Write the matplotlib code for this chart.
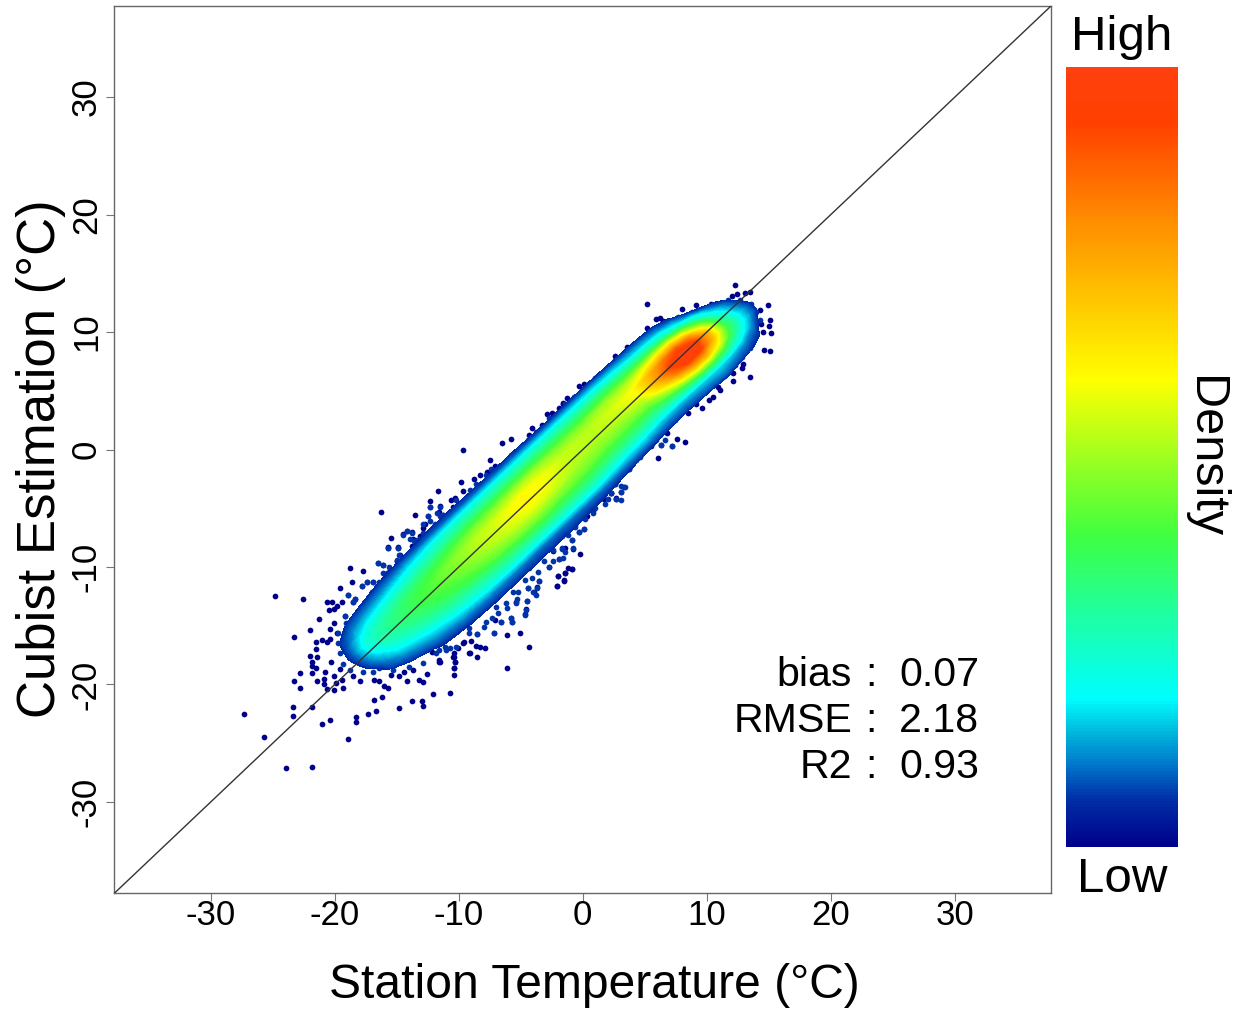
import numpy as np
import matplotlib
matplotlib.use('Agg')
import matplotlib.pyplot as plt
from matplotlib.colors import LinearSegmentedColormap

plt.rcParams['font.family'] = ['Liberation Sans', 'DejaVu Sans']
plt.rcParams['axes.unicode_minus'] = False

W, H = 1242, 1014

# position along the 1:1 line, and offset (estimate - station) across it
along = [-20, -19, -18, -17, -16, -14, -12, -10, -8, -6, -4.5, -3, -1, 1, 3, 4.5, 6, 7, 8, 9, 10, 11, 12, 13, 14]
across = [-8, -7, -6, -5, -4, -3, -2, -1, 0, 1, 2, 3, 4, 5, 6, 7, 8]

# density read off the colours of the cloud, below 0 means no cloud
density = [
    [-.3, -.3, -.3, -.3, -.3, -.3, -.3, -.3, -.3, -.3, -.3, -.3, -.3, -.3, -.3, -.3, -.3],
    [-.3, -.3, -.3, -.3, -.3, -.2, -.1, -.05, -.02, -.01, -.02, -.05, -.1, -.2, -.3, -.3, -.3],
    [-.3, -.3, -.3, -.2, -.1, -.03, .02, .06, .08, .09, .08, .06, .0, -.1, -.2, -.3, -.3],
    [-.3, -.3, -.2, -.1, .0, .07, .11, .16, .21, .23, .18, .12, .07, -.02, -.15, -.3, -.3],
    [-.3, -.3, -.1, -.02, .06, .12, .19, .25, .29, .29, .24, .16, .09, .02, -.1, -.3, -.3],
    [-.3, -.1, .02, .07, .13, .2, .28, .33, .36, .36, .31, .22, .13, .06, -.02, -.2, -.3],
    [-.3, -.05, .04, .1, .18, .27, .34, .39, .42, .41, .36, .27, .18, .08, .0, -.15, -.3],
    [-.2, -.02, .05, .11, .22, .3, .39, .44, .47, .47, .41, .31, .22, .09, .02, -.06, -.2],
    [-.2, -.02, .05, .11, .24, .34, .44, .5, .53, .53, .46, .35, .24, .09, .02, -.1, -.2],
    [-.2, -.02, .05, .1, .24, .36, .47, .55, .58, .57, .48, .36, .24, .09, .0, -.1, -.2],
    [-.2, -.02, .05, .1, .24, .37, .48, .57, .62, .61, .51, .37, .24, .09, .0, -.1, -.2],
    [-.2, -.02, .05, .1, .24, .36, .46, .55, .59, .59, .51, .37, .24, .09, .0, -.1, -.2],
    [-.2, -.04, .04, .1, .24, .35, .44, .5, .53, .54, .48, .36, .24, .08, -.02, -.1, -.2],
    [-.2, -.06, .02, .09, .2, .32, .41, .48, .52, .53, .48, .36, .23, .08, -.03, -.1, -.2],
    [-.2, -.08, .0, .08, .18, .3, .4, .48, .54, .56, .51, .38, .22, .08, -.03, -.1, -.2],
    [-.2, -.1, -.02, .07, .15, .28, .39, .5, .58, .6, .52, .37, .2, .07, -.04, -.1, -.2],
    [-.2, -.1, -.03, .07, .14, .31, .5, .68, .78, .75, .58, .36, .17, .06, -.05, -.1, -.2],
    [-.2, -.1, -.03, .08, .15, .36, .62, .84, .93, .85, .63, .35, .16, .05, -.06, -.1, -.2],
    [-.2, -.1, -.02, .09, .16, .42, .72, .95, 1.0, .9, .64, .3, .13, .03, -.07, -.1, -.2],
    [-.2, -.1, .0, .1, .17, .42, .72, .93, .98, .8, .5, .2, .07, -.01, -.1, -.15, -.2],
    [-.2, -.1, -.03, .08, .15, .36, .58, .72, .72, .52, .28, .08, -.05, -.1, -.15, -.2, -.2],
    [-.2, -.1, -.06, .06, .12, .24, .36, .4, .34, .22, .1, -.02, -.1, -.15, -.2, -.2, -.2],
    [-.2, -.15, -.08, .03, .07, .13, .19, .19, .14, .08, .0, -.1, -.15, -.2, -.2, -.2, -.2],
    [-.3, -.2, -.15, -.1, -.04, .0, .05, .05, .01, -.05, -.1, -.15, -.2, -.3, -.3, -.3, -.3],
    [-.3, -.3, -.3, -.3, -.2, -.15, -.12, -.12, -.15, -.2, -.3, -.3, -.3, -.3, -.3, -.3, -.3],
]

# loose points outside the cloud
point_x = [
    -24.8, -22.6, -27.3, -25.7, -23.9, -21.8, -18.9, -21.0, -20.4, -18.3, -18.3, -17.3, -16.7, -14.8, -16.8, -16.2,
    -13.8, -13.0, -12.9, -12.1, -10.7, -23.4, -23.4, -21.8, -23.3, -22.8, -22.8, -23.3, -22.0, -21.3, -22.0, -21.5,
    -21.5, -21.8, -21.8, -21.4, -21.5, -21.8, -21.4, -20.9, -20.9, -20.6, -20.1, -19.3, -19.9, -19.4, -20.1, -20.8,
    -20.3, -19.6, -21.0, -20.6, -20.4, -20.4, -20.1, -19.8, -19.2, -20.5, -20.1, -19.8, -20.6, -20.2, -19.4, -19.6,
    -18.9, -18.6, -18.8, -17.7, -17.8, -17.4, -16.9, -18.4, -18.5, -17.0, -16.5, -15.7, -14.9, -18.0, -18.5, -16.8,
    -16.4, -16.0, -15.7, -15.5, -14.8, -14.2, -13.2, -12.9, -12.6, -14.4, -13.7, -11.6, -10.4, -10.4, -10.3, -10.4,
    -9.6, -9.2, -9.7, -6.5, -5.8, -7.5, -7.1, -7.7, -8.3, -8.8, -9.8, -9.7, -11.7, -10.3, -10.6, -12.3, -12.3, -11.5,
    -10.5, -11.6, -13.5, -16.3, -12.5, -12.7, -12.9, -14.2, -13.8, -14.5, -15.5, -13.7, -15.7, -14.9, -13.8, -13.1,
    -14.7, -15.0, -16.1, -15.6, -2.9, -2.5, -2.4, -1.9, -1.6, -4.1, -3.3, -4.3, -4.8, -5.4, -6.0, -1.2, -0.2, -0.9,
    -1.4, -2.0, -1.5, -2.1, -3.5, -3.7, -3.9, -4.4, -4.5, -4.6, -4.7, -5.1, -6.1, -7.2, -8.5, -5.7, -5.8, -6.6, -7.1,
    -5.4, -0.8, 0.1, -0.3, -0.6, -0.9, -1.4, -1.9, -2.7, -2.4, -1.7, 0.8, 0.3, 2.3, 2.7, 1.7, 1.2, 2.6, 5.2, 12.3,
    12.0, 12.4, 13.1, 13.5, 9.1, 10.3, 8.0, 6.2, 5.9, 6.5, 5.2, 5.5, 5.9, 5.4, 4.6, 3.6, 2.6, 3.2, 2.1, 1.8, 1.0, 0.1,
    -0.3, 0.4, -0.7, -1.3, -1.6, 14.9, 15.1, 15.2, 14.6, 15.1, 14.3, 15.0, 14.5, 14.4, 13.5, 12.1, 12.1, 12.9, 12.8,
    12.3, 10.9, 11.1, 10.5, 10.2, 9.6, 9.1, 8.5, 7.4, 8.2, 7.2, 7.6, 6.8, 6.3, 6.1, 5.5, 5.8, 3.7, 3.3, 3.1, 2.3, 2.7,
    6.8, -4.3, -6.1, -9.0, -9.65, -10.05, -8.6, -8.25, -7.9, -9.1, -8.5, -10.4, -10.5, -10.3, -11.6, -11.5, -10.4,
    -12.2, -2.1, -1.5, -2.0, -1.4, -0.9,
]
point_y = [
    -12.5, -12.7, -22.5, -24.5, -27.1, -27.0, -24.6, -23.4, -23.0, -22.8, -23.2, -22.5, -22.3, -22.0, -21.3, -21.1,
    -21.4, -21.4, -21.8, -20.8, -20.7, -21.9, -22.7, -21.9, -19.7, -19.0, -20.3, -16.0, -15.4, -14.4, -17.6, -16.4,
    -17.0, -18.1, -18.4, -17.7, -18.6, -19.0, -19.7, -19.5, -20.0, -20.4, -20.5, -20.3, -19.9, -19.6, -19.3, -18.9,
    -18.1, -18.7, -16.2, -16.4, -16.1, -15.3, -14.8, -15.6, -14.2, -13.7, -13.6, -13.3, -13.0, -13.0, -13.0, -11.8,
    -12.4, -11.3, -10.1, -10.3, -11.6, -11.3, -11.3, -12.7, -13.0, -12.1, -9.7, -8.3, -8.3, -19.7, -19.3, -19.6,
    -19.7, -20.1, -20.3, -19.2, -19.3, -19.7, -19.6, -19.8, -19.1, -18.9, -18.8, -18.1, -18.6, -19.2, -18.1, -17.7,
    -16.4, -17.3, 0.0, 0.55, 0.9, -0.9, -1.4, -1.9, -2.2, -2.5, -2.8, -3.5, -3.5, -4.1, -4.3, -4.4, -4.9, -4.8,
    -4.9, -5.3, -5.6, -5.3, -5.7, -6.3, -6.7, -6.9, -7.0, -7.2, -7.5, -7.6, -8.4, -8.4, -8.2, -7.4,
    -9.0, -9.5, -9.8, -10.4, 3.0, 3.1, 2.7, 3.5, 3.9, 1.8, 2.1, 1.2, 0.4, -0.5, -0.8, -10.1, -8.9, -10.2,
    -10.5, -10.8, -11.1, -11.6, -11.2, -11.7, -12.1, -11.8, -12.9, -13.6, -14.0, -15.6, -15.8, -15.6, -15.7, -14.7,
    -14.3, -14.7, -14.5, -13.0, -8.5, -6.8, -7.0, -6.4, -7.7, -8.4, -9.3, -10.0, -8.6, -7.4, -5.2, -5.7, -3.7, -4.2,
    -4.2, -4.0, -2.9, 12.4, 14.0, 13.1, 13.2, 13.3, 13.4, 12.3, 12.4, 12.0, 11.2, 11.1, 10.9, 10.3, 10.2, 10.2, 9.7,
    9.2, 8.7, 8.0, 8.0, 7.1, 6.6, 6.1, 5.6, 5.4, 5.0, 4.5, 4.4, 4.0, 12.3, 11.0, 9.9, 8.5, 8.4, 11.9, 10.5, 10.0, 10.7,
    6.2, 5.8, 6.5, 7.3, 6.9, 7.2, 5.3, 5.1, 4.5, 4.2, 3.5, 3.9, 3.1, 2.5, 0.6, 0.3, 0.9, 1.4, 0.4, -0.7, 0.3, 0.8,
    -1.7, -3.2, -3.6, -3.7, -4.1, 2.2, -16.8, -18.6, -16.3, -16.5, -16.9, -16.7, -16.8, -16.9, -17.3, -17.7, -17.3,
    -17.7, -18.1, -17.9, -18.1, -18.6, -17.2, -11.6, -11.2, -10.8, -10.5, -10.2,
]

# lighter points packed against the edge of the cloud
fringe_x = [
    -12.3, -11.5, -11.75, -12.5, -12.3, -12.9, -11.5, -11.3, -14.2, -13.8, -14.5, -13.9, -13.6, -13.1, -14.9, -15.7,
    -14.8, -15.0, -16.5, -16.1, -15.6, -16.1, -15.4, -16.9, -17.4, -16.4, -16.4, -15.8, -17.0, -17.8, -17.8, -17.7,
    -17.2, -18.4, -18.5, -18.9, -18.4, -18.0, -19.2, -18.8,
    -1.7, -2.4, -1.4, -1.9, -1.6, -3.1, -2.7, -2.4, -3.1, -3.6, -4.3, -4.1, -3.5, -4.7, -5.0, -4.4, -3.7, -4.0, -3.8,
    -5.2, -5.6, -5.3, -5.4, -4.5, -4.6, -4.7, -6.2, -6.1, -6.97, -6.8, -5.8, -5.7, -6.6, -7.3, -7.8, -8.0, -9.2, -9.2,
    -8.5, -7.2, -10.7, -11.1, -11.6,
    7.2, 6.3, 6.6, 6.2, 6.75, 5.9, 5.5, 4.65, 4.3, 4.6, 3.9, 3.7, 3.1, 2.6, 3.1, 3.4, 3.1, 2.3, 2.7, 3.1, 2.0, 1.8, 1.4,
    1.0, 0.8, 0.2, 0.1, -0.3, -0.6, -0.9, -1.2, -0.8, -1.7, -1.3, -1.6, -2.1,
    -7.8, -7.4, -5.75, -5.5, -4.95, -4.4, -3.75, -3.2, -2.7, -9.1, -8.6, -10.2, -11.3, -11.9, -12.9, -13.4, -14.8, -15.8,
    -16.2, -1.45, -0.65, 0.17, 0.84, 1.5, 2.6, 3.7, 4.5, 5.35, 6.2, 7.7, 8.8, 9.6, 11.05, 11.7, 12.7, 13.6, 14.0, 14.3,
    14.0, 13.7, 13.5, 12.8, 12.1, 11.3, 10.65, 9.7, 8.9, 7.6, 6.75, 6.2,
    -17.7, -16.9, -16.4, -15.3, -14.0, -12.9, -11.8, -11.0, -10.2, -18.8, -19.3, -19.6, -19.7, -19.7, -19.1, -18.4,
    -17.5, -16.6, -15.8, -15.0,
]
fringe_y = [
    -4.9, -4.9, -5.4, -5.7, -6.1, -6.3, -5.7, -5.6, -6.9, -7.1, -7.3, -7.6, -7.8, -7.6, -8.4, -8.4,
    -9.0, -9.5, -9.7, -9.8, -10.0, -10.5, -10.7, -11.3, -11.3, -11.3, -11.7, -11.5, -12.2, -11.6, -13.3, -13.8,
    -13.4, -12.7, -13.0, -12.4, -14.3, -14.4, -14.2, -14.8,
    -8.5, -8.55, -8.7, -9.3, -9.2, -8.7, -10.0, -9.5, -9.5, -10.4, -10.1, -10.9, -11.2, -11.1, -10.6, -11.8, -11.8,
    -12.1, -12.4, -12.1, -12.1, -12.7, -13.1, -12.9, -13.7, -14.1, -13.1, -13.5, -13.4, -13.9, -14.3, -14.7, -14.7,
    -14.3, -14.7, -15.1, -15.2, -15.6, -15.7, -15.6, -16.9, -16.8, -17.1,
    0.3, 0.4, 0.8, 1.2, 2.1, 0.8, 0.4, -0.6, -0.9, -0.2, -0.2, -1.7, -2.2, -2.9, -3.1, -3.2, -3.65, -3.7, -4.2, -4.3,
    -4.2, -4.6, -4.2, -5.0, -5.4, -5.9, -6.8, -7.0, -6.6, -7.7, -7.3, -8.4, -8.4, -6.0, -6.85, -7.6,
    -2.2, -1.7, -0.5, -0.6, 0.2, 0.8, 1.5, 1.9, 2.65, -3.45, -2.9, -4.3, -5.6, -6.3, -7.1, -7.7, -9.7, -10.5,
    -11.4, 3.9, 4.1, 4.9, 5.8, 6.2, 7.6, 8.3, 8.9, 9.75, 10.5, 11.3, 11.7, 11.9, 12.4, 12.7, 12.7, 12.4, 11.7, 11.0,
    10.0, 9.2, 8.6, 7.9, 7.2, 6.2, 5.8, 5.1, 4.5, 3.1, 2.1, 1.4,
    -18.9, -18.9, -18.6, -18.8, -18.5, -18.2, -17.3, -17.1, -16.8, -18.8, -18.3, -17.35, -16.5, -15.6, -14.8, -14.1,
    -13.1, -12.0, -10.8, -9.4,
]

tick_values = [-30, -20, -10, 0, 10, 20, 30]
stat_names = ['bias', 'RMSE', 'R2']
stat_values = ['0.07', '2.18', '0.93']

density_cmap = LinearSegmentedColormap.from_list('density', [
    (0.0, '#00008b'), (0.06, '#0030a8'), (0.1, '#0070c8'), (0.15, '#00c0e0'), (0.19, '#00ffff'),
    (0.3, '#20ffa0'), (0.4, '#40ff40'), (0.6, '#ffff00'), (0.8, '#ff9000'), (0.93, '#ff4000'), (1.0, '#ff4010'),
])


def px_rect(left, top, right, bottom):
    return [left / W, 1 - bottom / H, (right - left) / W, (bottom - top) / H]


fig = plt.figure(figsize=(W / 100, H / 100), dpi=100)
ax = fig.add_axes(px_rect(114, 6, 1051, 893))

t_grid, d_grid = np.meshgrid(along, across, indexing='ij')
ax.scatter(point_x, point_y, s=17, color='#00008b', linewidths=0, zorder=1)
ax.scatter(fringe_x, fringe_y, s=17, color='#0034a8', linewidths=0, zorder=1.5)
ax.contourf(t_grid - d_grid / 2, t_grid + d_grid / 2, np.array(density),
            levels=np.linspace(0.05, 1.0, 115), cmap=density_cmap, vmin=0, vmax=1, zorder=2)
ax.axline((0, 0), slope=1, color='#333333', lw=1, zorder=3)

ax.set_xlim(-37.8, 37.75)
ax.set_ylim(-37.75, 37.75)
ax.set_xticks(tick_values)
ax.set_yticks(tick_values)
ax.tick_params(axis='x', length=6, width=0.8, color='#777777', labelsize=25, pad=-2)
ax.tick_params(axis='y', length=6, width=0.8, color='#777777', labelsize=25, pad=2)
for lab in ax.get_yticklabels():
    lab.set_rotation(90)
    lab.set_va('center')
for sp in ax.spines.values():
    sp.set_color('#666666')
    sp.set_linewidth(1)

fig.text(594 / W, 1 - 985 / H, 'Station Temperature (°C)', fontsize=34.6, ha='center', va='center')
fig.text(41 / W, 1 - 459 / H, 'Cubist Estimation (°C)', fontsize=38, rotation=90, ha='center', va='center')

for i in range(3):
    y = 1 - (674.5 + 46.5 * i) / H
    fig.text(852 / W, y, stat_names[i], fontsize=29.6, ha='right', va='center')
    fig.text(871 / W, y, ':', fontsize=29.6, ha='center', va='center')
    fig.text(899 / W, y, stat_values[i], fontsize=29.6, ha='left', va='center')

cax = fig.add_axes(px_rect(1066, 67, 1178, 847))
cax.imshow(np.linspace(1, 0, 256).reshape(-1, 1), cmap=density_cmap, aspect='auto', vmin=0, vmax=1)
cax.axis('off')
fig.text(1122 / W, 1 - 37 / H, 'High', fontsize=35.5, ha='center', va='center')
fig.text(1122 / W, 1 - 879 / H, 'Low', fontsize=35.5, ha='center', va='center')
fig.text(1205 / W, 1 - 457 / H, 'Density', fontsize=35, rotation=270, ha='center', va='center')

fig.savefig('out.png', dpi=100)
